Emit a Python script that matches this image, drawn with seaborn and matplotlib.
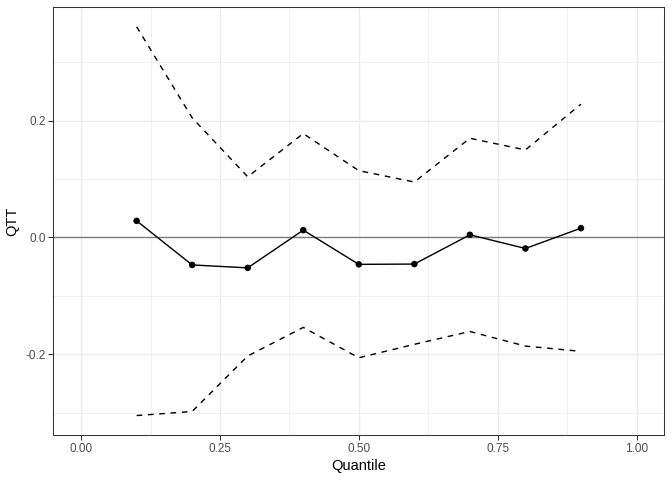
import matplotlib
matplotlib.use("Agg")
import matplotlib.pyplot as plt
import seaborn as sns
import pandas as pd
import numpy as np
from matplotlib.ticker import FixedLocator

quantile = [0.1, 0.2, 0.3, 0.4, 0.5, 0.6, 0.7, 0.8, 0.9]
qtt = [0.0285, -0.047, -0.052, 0.0126, -0.046, -0.0455, 0.0046, -0.0188, 0.016]
upper = [0.361, 0.205, 0.104, 0.178, 0.1145, 0.095, 0.170, 0.150, 0.2285]
lower = [-0.305, -0.298, -0.203, -0.154, -0.206, -0.183, -0.161, -0.186, -0.195]

x_ticks = [0.0, 0.25, 0.5, 0.75, 1.0]
x_ticklabels = ["0.00", "0.25", "0.50", "0.75", "1.00"]
y_ticks = [-0.2, 0.0, 0.2]
y_ticklabels = ["-0.2", "0.0", "0.2"]

df = pd.DataFrame({"Quantile": quantile, "QTT": qtt, "upper": upper, "lower": lower})

sns.set_theme(style="white")
plt.rcParams["font.family"] = ["Liberation Sans", "DejaVu Sans"]

fig = plt.figure(figsize=(6.72, 4.8), dpi=100)
ax = fig.add_axes([53.3 / 672, 1 - 435 / 480, (664.3 - 53.3) / 672, (435 - 7.3) / 480])
ax.set_facecolor("white")

lw = 1.02
ax.axhline(0, color="#7F7F7F", lw=lw, zorder=2)
sns.lineplot(data=df, x="Quantile", y="upper", ax=ax, color="black", lw=lw, zorder=3)
sns.lineplot(data=df, x="Quantile", y="lower", ax=ax, color="black", lw=lw, zorder=3)
for l in ax.lines[1:]:
    l.set_dashes([4, 4])
sns.lineplot(data=df, x="Quantile", y="QTT", ax=ax, color="black", lw=lw, zorder=4)
sns.scatterplot(data=df, x="Quantile", y="QTT", ax=ax, color="black", s=22, edgecolor="none", zorder=5)

ymin = min(lower); ymax = max(upper); r = ymax - ymin
ax.set_ylim(ymin - 0.05 * r, ymax + 0.05 * r)
ax.set_xlim(-0.05, 1.05)

ax.xaxis.set_major_locator(FixedLocator(x_ticks))
ax.set_xticklabels(x_ticklabels)
ax.yaxis.set_major_locator(FixedLocator(y_ticks))
ax.set_yticklabels(y_ticklabels)
ax.xaxis.set_minor_locator(FixedLocator([0.125, 0.375, 0.625, 0.875]))
ax.yaxis.set_minor_locator(FixedLocator([-0.3, -0.1, 0.1, 0.3]))

ax.grid(which="major", color="#EBEBEB", lw=1.0, zorder=0)
ax.grid(which="minor", color="#EBEBEB", lw=0.5, zorder=0)
ax.set_axisbelow(True)

ax.tick_params(which="major", length=3.6, width=0.75, color="#333333",
               labelsize=8.45, labelcolor="#4D4D4D", pad=2, bottom=True, left=True)
ax.tick_params(which="minor", length=0)
for s in ax.spines.values():
    s.set_color("#333333")
    s.set_linewidth(0.75)

ax.set_xlabel("Quantile", fontsize=10.5, color="black", labelpad=3)
ax.set_ylabel("QTT", fontsize=10.5, color="black", labelpad=4)

fig.savefig("out.png", dpi=100)
